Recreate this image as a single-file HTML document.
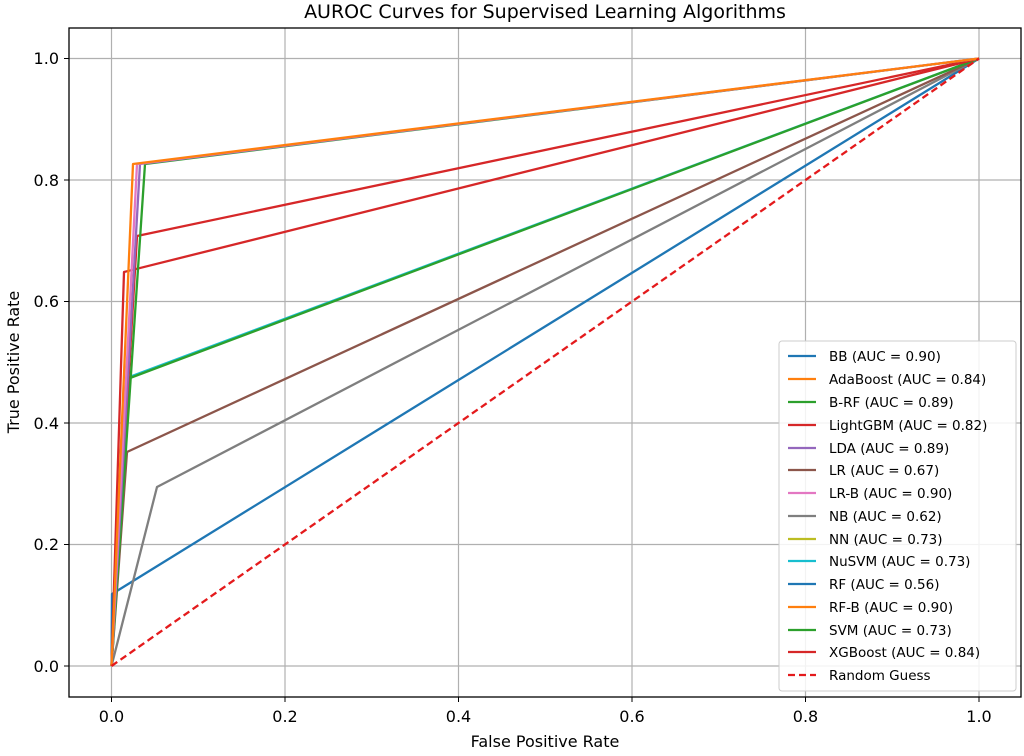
<!DOCTYPE html>
<html><head><meta charset="utf-8"><style>body{margin:0;background:#fff}</style></head><body>
<svg width="1024" height="751" xmlns="http://www.w3.org/2000/svg" font-family="'DejaVu Sans','Liberation Sans',sans-serif">
<rect width="1024" height="751" fill="#fff"/>
<g stroke="#b0b0b0" stroke-width="1.2">
<line x1="111.5" y1="28" x2="111.5" y2="697"/><line x1="285" y1="28" x2="285" y2="697"/><line x1="458.5" y1="28" x2="458.5" y2="697"/><line x1="632" y1="28" x2="632" y2="697"/><line x1="805.5" y1="28" x2="805.5" y2="697"/><line x1="979" y1="28" x2="979" y2="697"/>
<line x1="69" y1="666" x2="1021" y2="666"/><line x1="69" y1="544.5" x2="1021" y2="544.5"/><line x1="69" y1="423" x2="1021" y2="423"/><line x1="69" y1="301.5" x2="1021" y2="301.5"/><line x1="69" y1="180" x2="1021" y2="180"/><line x1="69" y1="58.5" x2="1021" y2="58.5"/>
</g>
<g fill="none" stroke-width="2.3" stroke-linejoin="round">
<polyline stroke="#1f77b4" points="111.5,666 112,594 979,58.5"/>
<polyline stroke="#7f7f7f" points="111.5,666 157,487 979,58.5"/>
<polyline stroke="#8c564b" points="111.5,666 127,452 979,58.5"/>
<polyline stroke="#17becf" points="111.5,666 129.5,377 979,58.5"/>
<polyline stroke="#2ca02c" points="111.5,666 130,378 979,58.5"/>
<polyline stroke="#d62728" points="111.5,666 124,272 979,58.5"/>
<polyline stroke="#d62728" points="111.5,666 137,236 979,58.5"/>
<polyline stroke="#2ca02c" points="111.5,666 145,164 979,58.5"/>
<polyline stroke="#9467bd" points="111.5,666 140,164 979,58.5"/>
<polyline stroke="#e377c2" points="111.5,666 137,164 979,58.5"/>
<polyline stroke="#ff7f0e" points="111.5,666 133,164 979,58.5"/>
<polyline stroke="#e41a1c" stroke-dasharray="7,4" points="111.5,666 979,58.5"/>
</g>
<rect x="69" y="28" width="952" height="669" fill="none" stroke="#000" stroke-width="1.3"/>
<g stroke="#000"><line x1="111.5" y1="697" x2="111.5" y2="702"/><line x1="285" y1="697" x2="285" y2="702"/><line x1="458.5" y1="697" x2="458.5" y2="702"/><line x1="632" y1="697" x2="632" y2="702"/><line x1="805.5" y1="697" x2="805.5" y2="702"/><line x1="979" y1="697" x2="979" y2="702"/>
<line x1="64" y1="666" x2="69" y2="666"/><line x1="64" y1="544.5" x2="69" y2="544.5"/><line x1="64" y1="423" x2="69" y2="423"/><line x1="64" y1="301.5" x2="69" y2="301.5"/><line x1="64" y1="180" x2="69" y2="180"/><line x1="64" y1="58.5" x2="69" y2="58.5"/></g>
<g font-size="16" fill="#000" text-anchor="middle"><text x="111.5" y="722">0.0</text><text x="285" y="722">0.2</text><text x="458.5" y="722">0.4</text><text x="632" y="722">0.6</text><text x="805.5" y="722">0.8</text><text x="979" y="722">1.0</text></g>
<g font-size="16" fill="#000" text-anchor="end"><text x="59" y="672">0.0</text><text x="59" y="550">0.2</text><text x="59" y="429">0.4</text><text x="59" y="307">0.6</text><text x="59" y="186">0.8</text><text x="59" y="64">1.0</text></g>
<text x="545" y="747" font-size="16" text-anchor="middle">False Positive Rate</text>
<text transform="translate(19,362) rotate(-90)" font-size="16" text-anchor="middle">True Positive Rate</text>
<text x="545" y="18" font-size="19" text-anchor="middle">AUROC Curves for Supervised Learning Algorithms</text>
<rect x="779" y="341" width="237" height="350" rx="3" fill="#fff" fill-opacity="0.85" stroke="#ccc"/>
<g font-size="13.5" fill="#000">
<g stroke-width="2.3">
<line x1="788" y1="356" x2="816" y2="356" stroke="#1f77b4"/><line x1="788" y1="379" x2="816" y2="379" stroke="#ff7f0e"/><line x1="788" y1="402" x2="816" y2="402" stroke="#2ca02c"/><line x1="788" y1="425" x2="816" y2="425" stroke="#d62728"/><line x1="788" y1="448" x2="816" y2="448" stroke="#9467bd"/><line x1="788" y1="470" x2="816" y2="470" stroke="#8c564b"/><line x1="788" y1="493" x2="816" y2="493" stroke="#e377c2"/><line x1="788" y1="516" x2="816" y2="516" stroke="#7f7f7f"/><line x1="788" y1="539" x2="816" y2="539" stroke="#bcbd22"/><line x1="788" y1="561" x2="816" y2="561" stroke="#17becf"/><line x1="788" y1="584" x2="816" y2="584" stroke="#1f77b4"/><line x1="788" y1="607" x2="816" y2="607" stroke="#ff7f0e"/><line x1="788" y1="630" x2="816" y2="630" stroke="#2ca02c"/><line x1="788" y1="652" x2="816" y2="652" stroke="#d62728"/><line x1="788" y1="675" x2="816" y2="675" stroke="#e41a1c" stroke-dasharray="7,4"/></g>
<text x="829" y="361">BB (AUC = 0.90)</text><text x="829" y="384">AdaBoost (AUC = 0.84)</text><text x="829" y="407">B-RF (AUC = 0.89)</text><text x="829" y="430">LightGBM (AUC = 0.82)</text><text x="829" y="453">LDA (AUC = 0.89)</text><text x="829" y="475">LR (AUC = 0.67)</text><text x="829" y="498">LR-B (AUC = 0.90)</text><text x="829" y="521">NB (AUC = 0.62)</text><text x="829" y="544">NN (AUC = 0.73)</text><text x="829" y="566">NuSVM (AUC = 0.73)</text><text x="829" y="589">RF (AUC = 0.56)</text><text x="829" y="612">RF-B (AUC = 0.90)</text><text x="829" y="635">SVM (AUC = 0.73)</text><text x="829" y="657">XGBoost (AUC = 0.84)</text><text x="829" y="680">Random Guess</text>
</g>
</svg>
</body></html>
